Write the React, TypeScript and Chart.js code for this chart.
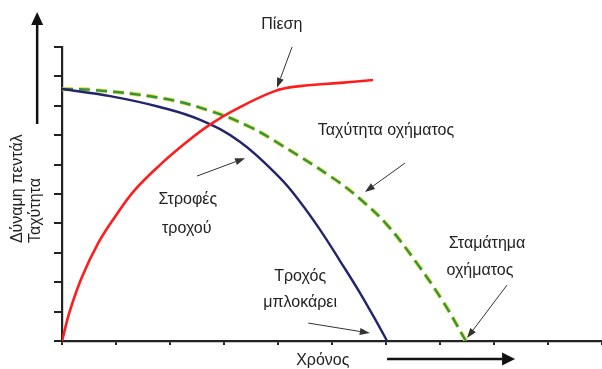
import React, { useEffect, useRef } from "react";
import { Chart, registerables } from "chart.js";

Chart.register(...registerables);

// Time axis (arbitrary units) and values
const wheelTime = [0, 0.89, 1.81, 2.56, 3.3, 4.04, 4.41, 4.78, 5.15, 5.52, 5.89, 6.02];
const wheelSpeed = [8.57, 8.33, 7.96, 7.52, 6.77, 5.54, 4.73, 3.78, 2.72, 1.63, 0.44, 0];

const vehicleTime = [0, 0.57, 1.81, 2.69, 3.48, 4.09, 5.02, 5.52, 6.02, 6.57, 7.06, 7.48];
const vehicleSpeed = [8.57, 8.54, 8.27, 7.86, 7.28, 6.63, 5.54, 4.83, 3.95, 2.65, 1.33, 0];

const pressureTime = [0, 0.15, 0.37, 0.67, 0.98, 1.35, 1.85, 2.33, 2.7, 3.2, 3.94, 4.41, 5.15, 5.76];
const pressureValue = [0, 1.05, 2.18, 3.33, 4.22, 5.14, 6.05, 6.8, 7.31, 7.86, 8.5, 8.67, 8.78, 8.88];

const tickValuesX = [0, 1, 2, 3, 4, 5, 6, 7, 8, 9, 10];
const tickValuesY = [0, 1, 2, 3, 4, 5, 6, 7, 8, 9, 10];

// Annotation texts (placed in data units)
const labelTexts = ["Πίεση", "Ταχύτητα οχήματος", "Στροφές", "τροχού", "Τροχός", "μπλοκάρει", "Σταμάτημα", "οχήματος", "Χρόνος"];
const labelX = [4.07, 6.0, 2.33, 2.31, 4.41, 4.41, 7.87, 7.74, 4.83];
const labelY = [10.75, 7.14, 4.8, 3.84, 2.18, 1.29, 3.33, 2.41, -0.68];

const axisTitles = ["Δύναμη πεντάλ", "Ταχύτητα"];
const axisTitleX = [-0.82, -0.49];
const axisTitleStartY = 3.33;

const calloutFromX = [4.26, 6.35, 2.5, 4.56, 8.24];
const calloutFromY = [10.0, 6.05, 5.61, 0.61, 1.9];
const calloutToX = [3.98, 5.61, 3.39, 5.7, 7.5];
const calloutToY = [8.61, 5.07, 6.22, 0.27, 0.1];

const zip = (xs: number[], ys: number[]) => xs.map((x, i) => ({ x, y: ys[i] }));

const FONT = '16px "Liberation Sans", Arial, sans-serif';

function arrow(ctx: CanvasRenderingContext2D, x1: number, y1: number, x2: number, y2: number, width: number, headLen: number, headW: number, color: string) {
  const a = Math.atan2(y2 - y1, x2 - x1);
  const bx = x2 - Math.cos(a) * headLen;
  const by = y2 - Math.sin(a) * headLen;
  ctx.save();
  ctx.strokeStyle = color;
  ctx.fillStyle = color;
  ctx.lineWidth = width;
  ctx.beginPath();
  ctx.moveTo(x1, y1);
  ctx.lineTo(bx, by);
  ctx.stroke();
  ctx.beginPath();
  ctx.moveTo(x2, y2);
  ctx.lineTo(bx + Math.sin(a) * headW / 2, by - Math.cos(a) * headW / 2);
  ctx.lineTo(bx - Math.sin(a) * headW / 2, by + Math.cos(a) * headW / 2);
  ctx.closePath();
  ctx.fill();
  ctx.restore();
}

const annotations = {
  id: "annotations",
  afterDraw(chart: any) {
    const { ctx, scales } = chart;
    const sx = (v: number) => scales.x.getPixelForValue(v);
    const sy = (v: number) => scales.y.getPixelForValue(v);
    ctx.save();
    ctx.font = FONT;
    ctx.fillStyle = "#222";
    ctx.textAlign = "center";
    ctx.textBaseline = "middle";
    labelTexts.forEach((t, i) => ctx.fillText(t, sx(labelX[i]), sy(labelY[i])));
    axisTitles.forEach((t, i) => {
      ctx.save();
      ctx.translate(sx(axisTitleX[i]), sy(axisTitleStartY));
      ctx.rotate(-Math.PI / 2);
      ctx.textAlign = "left";
      ctx.fillText(t, 0, 0);
      ctx.restore();
    });
    ctx.restore();
    calloutFromX.forEach((_, i) =>
      arrow(ctx, sx(calloutFromX[i]), sy(calloutFromY[i]), sx(calloutToX[i]), sy(calloutToY[i]), 1, 10, 7, "#333")
    );
    arrow(ctx, sx(-0.46), sy(7.38), sx(-0.46), sy(11.19), 2.5, 13, 12, "#111");
    arrow(ctx, sx(6.02), sy(-0.61), sx(8.39), sy(-0.61), 2.5, 13, 13, "#111");
  },
};

export default function App() {
  const ref = useRef<HTMLCanvasElement>(null);
  useEffect(() => {
    if (!ref.current) return;
    const chart = new Chart(ref.current, {
      type: "line",
      data: {
        datasets: [
          {
            data: zip(pressureTime, pressureValue),
            borderColor: "#ff1c1c",
            borderWidth: 2.6,
            pointRadius: 0,
            tension: 0.4,
          },
          {
            data: zip(wheelTime, wheelSpeed),
            borderColor: "#24246e",
            borderWidth: 2.4,
            pointRadius: 0,
            tension: 0.4,
          },
          {
            data: zip(vehicleTime, vehicleSpeed),
            borderColor: "#2f9445",
            borderWidth: 2.4,
            borderDash: [11, 6],
            pointRadius: 0,
            tension: 0.4,
          },
          {
            data: zip(vehicleTime, vehicleSpeed),
            borderColor: "#e8e040",
            borderWidth: 4.2,
            borderDash: [11, 6],
            pointRadius: 0,
            tension: 0.4,
          },
        ],
      },
      options: {
        animation: false,
        responsive: false,
        layout: { padding: { left: 54, top: 47, right: 0, bottom: 24 } },
        plugins: { legend: { display: false }, tooltip: { enabled: false } },
        scales: {
          x: {
            type: "linear",
            min: 0,
            max: 10,
            afterBuildTicks: (s: any) => { s.ticks = tickValuesX.map((v) => ({ value: v })); },
            ticks: { display: false },
            grid: { drawOnChartArea: false, color: "#222", lineWidth: 2, tickLength: 4 },
            border: { color: "#222", width: 2.2 },
          },
          y: {
            type: "linear",
            min: 0,
            max: 10,
            afterBuildTicks: (s: any) => { s.ticks = tickValuesY.map((v) => ({ value: v })); },
            ticks: { display: false },
            grid: { drawOnChartArea: false, color: "#222", lineWidth: 2, tickLength: 8 },
            border: { color: "#222", width: 2.2 },
          },
        },
      },
      plugins: [annotations],
    });
    return () => chart.destroy();
  }, []);
  return (
    <div style={{ position: "fixed", left: 0, top: 0, width: 602, height: 369, background: "#fff" }}>
      <canvas ref={ref} width={602} height={369} />
    </div>
  );
}
